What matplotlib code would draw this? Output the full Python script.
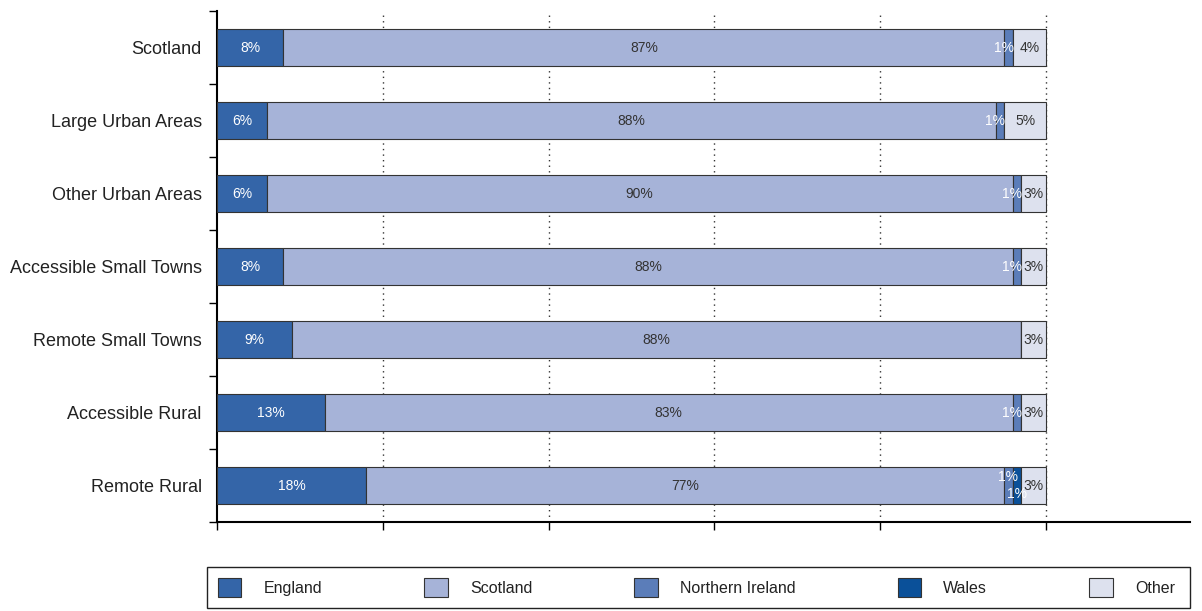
import numpy as np
import matplotlib
matplotlib.use("Agg")
import matplotlib.pyplot as plt
from matplotlib.patches import Rectangle

plt.rcParams['font.family'] = ['Liberation Sans', 'DejaVu Sans']

# 各地区人口出生地构成（%）
areas = ['Scotland', 'Large Urban Areas', 'Other Urban Areas', 'Accessible Small Towns',
         'Remote Small Towns', 'Accessible Rural', 'Remote Rural']
england = [8, 6, 6, 8, 9, 13, 18]
scotland = [87, 88, 90, 88, 88, 83, 77]
n_ireland = [1, 1, 1, 1, 0, 1, 1]
wales = [0, 0, 0, 0, 0, 0, 1]
other = [4, 5, 3, 3, 3, 3, 3]

series = [('England', england, '#3465a8', 'white'),
          ('Scotland', scotland, '#a6b3d8', '#333333'),
          ('Northern Ireland', n_ireland, '#5b7db9', 'white'),
          ('Wales', wales, '#0a5099', 'white'),
          ('Other', other, '#dde1ee', '#333333')]

fig = plt.figure(figsize=(12.02, 6.11), dpi=100)
ax = fig.add_axes([217 / 1202, 1 - 522 / 611, (1190 - 217) / 1202, (522 - 11) / 611])

y = np.arange(len(areas))
left = np.zeros(len(areas))
for name, vals, color, tcolor in series:
    vals = np.array(vals, dtype=float)
    ax.barh(y, vals, left=left, height=0.5, color=color, edgecolor='#333333',
            linewidth=0.8, label=name, zorder=3)
    for i, v in enumerate(vals):
        if v <= 0:
            continue
        dx, dy = 0, 0
        if name == 'Northern Ireland':
            dx = -0.6
        # 两个很窄的段上下错开
        if areas[i] == 'Remote Rural' and name == 'Northern Ireland':
            dx, dy = 0, -0.12
        elif areas[i] == 'Remote Rural' and name == 'Wales':
            dy = 0.12
        ax.text(left[i] + v / 2 + dx, y[i] + dy, '{:.0f}%'.format(v), ha='center', va='center',
                fontsize=10, color=tcolor, zorder=4)
    left += vals

ax.set_xlim(0, 117.4)
ax.set_ylim(len(areas) - 0.5, -0.5)
ax.set_yticks(y)
ax.set_yticklabels(areas, fontsize=13, color='#222222')
ax.set_yticks(np.arange(-0.5, len(areas), 1), minor=True)
ax.tick_params(axis='y', which='major', length=0, pad=11)
ax.tick_params(axis='y', which='minor', length=6, width=1, direction='out')
ax.set_xticks([0, 20, 40, 60, 80, 100])
ax.set_xticklabels([])
ax.tick_params(axis='x', length=6, width=1, direction='out')

for gx in [20, 40, 60, 80, 100]:
    ax.axvline(gx, color='#333333', linewidth=1, linestyle=(0, (1, 3)), zorder=1)

ax.spines['top'].set_visible(False)
ax.spines['right'].set_visible(False)
ax.spines['left'].set_linewidth(1.5)
ax.spines['bottom'].set_linewidth(1.5)

# 图例：无边框图例 + 单独画外框
leg = fig.legend(loc='center left', bbox_to_anchor=(218 / 1202, 1 - 587.5 / 611),
                 ncol=5, fontsize=11.5, frameon=False,
                 handlelength=1.45, handleheight=1.45, handletextpad=1.4,
                 columnspacing=6.4, borderpad=0, borderaxespad=0)
for t in leg.get_texts():
    t.set_color('#222222')
fig.patches.append(Rectangle((207 / 1202, 1 - 608 / 611), (1190 - 207) / 1202, 41 / 611,
                             transform=fig.transFigure, fill=False,
                             edgecolor='#222222', linewidth=1))

fig.savefig('out.png', dpi=100)
